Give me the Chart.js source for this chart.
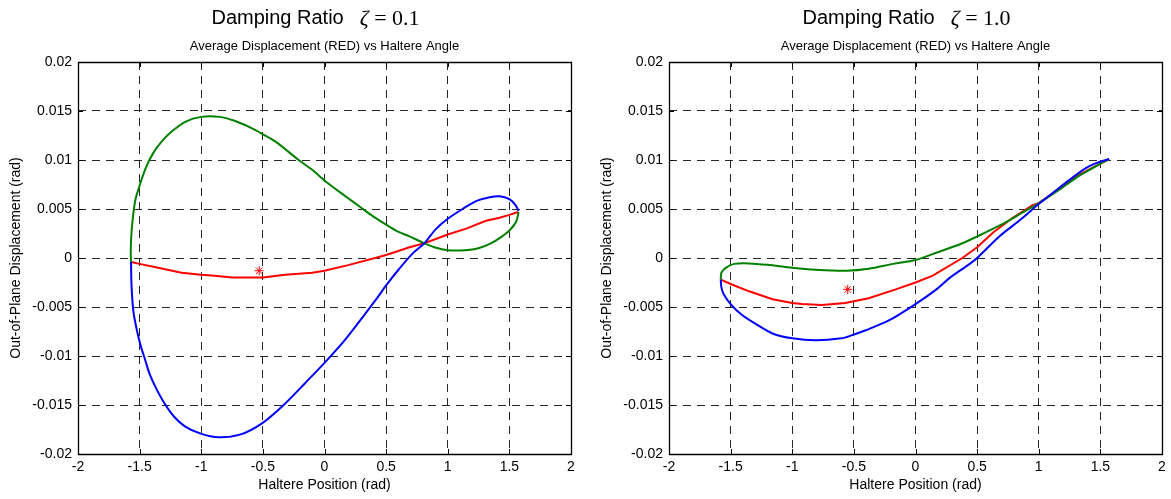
<!DOCTYPE html>
<html>
<head>
<meta charset="utf-8">
<script src="https://cdn.jsdelivr.net/npm/chart.js@4.4.0/dist/chart.umd.min.js"></script>
<style>
  html, body { margin: 0; padding: 0; background: #fff; }
  #wrap { position: relative; width: 1171px; height: 499px; }
  .box { position: absolute; top: 0; height: 499px; }
  #left-box { left: 0; width: 586px; }
  #right-box { left: 586px; width: 585px; }
</style>
</head>
<body>
<div id="wrap">
  <div class="box" id="left-box"><canvas id="chart-left" width="586" height="499"></canvas></div>
  <div class="box" id="right-box"><canvas id="chart-right" width="585" height="499"></canvas></div>
</div>
<script>
// axis ticks (same on both panels)
const xTicks = [-2, -1.5, -1, -0.5, 0, 0.5, 1, 1.5, 2]
const xTickLabels = ['-2', '-1.5', '-1', '-0.5', '0', '0.5', '1', '1.5', '2']
const yTicks = [-0.02, -0.015, -0.01, -0.005, 0, 0.005, 0.01, 0.015, 0.02]
const yTickLabels = ['-0.02', '-0.015', '-0.01', '-0.005', '0', '0.005', '0.01', '0.015', '0.02']

// zeta = 0.1
const blue01X = [-1.57, -1.565, -1.55, -1.52, -1.49, -1.46, -1.42, -1.37, -1.30, -1.22, -1.13, -1.01, -0.86, -0.68, -0.51, -0.34, -0.16, 0.0, 0.17, 0.33, 0.42, 0.5, 0.60, 0.71, 0.81, 0.90, 1.0, 1.12, 1.23, 1.34, 1.42, 1.50, 1.55, 1.575]
const blue01Y = [-0.0004, -0.003, -0.0055, -0.0075, -0.009, -0.0102, -0.0118, -0.0132, -0.0148, -0.0162, -0.0172, -0.0179, -0.0183, -0.0180, -0.0169, -0.0151, -0.0128, -0.0107, -0.0083, -0.0057, -0.0042, -0.0028, -0.0012, 0.0004, 0.0015, 0.0029, 0.0040, 0.0050, 0.0058, 0.0062, 0.0063, 0.0060, 0.0054, 0.0048]
const green01X = [1.575, 1.555, 1.50, 1.43, 1.35, 1.25, 1.14, 1.0, 0.89, 0.81, 0.69, 0.58, 0.50, 0.40, 0.29, 0.17, 0.02, -0.10, -0.21, -0.40, -0.51, -0.60, -0.73, -0.85, -1.0, -1.13, -1.24, -1.32, -1.39, -1.45, -1.50, -1.535, -1.555, -1.568, -1.572, -1.57]
const green01Y = [0.0047, 0.0037, 0.0028, 0.0021, 0.0015, 0.0010, 0.0008, 0.0008, 0.0011, 0.0015, 0.0022, 0.0028, 0.0034, 0.0042, 0.0052, 0.0063, 0.0077, 0.0090, 0.0100, 0.0119, 0.0127, 0.0133, 0.0140, 0.0144, 0.0144, 0.0139, 0.0129, 0.0119, 0.0107, 0.0092, 0.0074, 0.0059, 0.0041, 0.0022, 0.0005, -0.0004]
const red01X = [-1.57, -1.5, -1.35, -1.16, -1.0, -0.89, -0.75, -0.5, -0.32, -0.10, 0.0, 0.20, 0.44, 0.5, 0.69, 0.81, 1.0, 1.15, 1.31, 1.42, 1.5, 1.57]
const red01Y = [-0.0004, -0.0006, -0.0010, -0.0015, -0.0017, -0.0018, -0.0020, -0.0020, -0.0017, -0.0015, -0.0013, -0.0007, 0.0001, 0.0003, 0.0011, 0.0015, 0.0024, 0.0030, 0.0038, 0.0041, 0.0044, 0.0047]
const star01X = [-0.53]
const star01Y = [-0.0013]

// zeta = 1.0
const blue10X = [-1.58, -1.575, -1.556, -1.50, -1.41, -1.30, -1.16, -1.0, -0.81, -0.60, -0.52, -0.41, -0.22, 0.0, 0.17, 0.28, 0.44, 0.50, 0.68, 0.85, 1.0, 1.17, 1.36, 1.47, 1.57]
const blue10Y = [-0.0022, -0.0030, -0.0037, -0.0047, -0.0058, -0.0067, -0.0077, -0.0082, -0.0084, -0.0082, -0.0079, -0.0074, -0.0064, -0.0047, -0.0032, -0.0020, -0.0006, 0.0000, 0.0022, 0.0039, 0.0055, 0.0072, 0.0090, 0.0097, 0.0101]
const green10X = [-1.58, -1.575, -1.54, -1.47, -1.35, -1.20, -1.0, -0.81, -0.56, -0.38, -0.18, 0.0, 0.14, 0.38, 0.50, 0.68, 0.85, 1.0, 1.17, 1.33, 1.47, 1.57]
const green10Y = [-0.0022, -0.0015, -0.0010, -0.0006, -0.00055, -0.0007, -0.0010, -0.0012, -0.0013, -0.0011, -0.0006, -0.0002, 0.0004, 0.0015, 0.0022, 0.0033, 0.0045, 0.0056, 0.0070, 0.0084, 0.0094, 0.0101]
const red10X = [-1.58, -1.49, -1.35, -1.16, -1.0, -0.92, -0.76, -0.57, -0.38, -0.16, 0.0, 0.14, 0.38, 0.50, 0.63, 0.79, 0.95, 1.0, 1.17, 1.33, 1.57]
const red10Y = [-0.0022, -0.0027, -0.0034, -0.0042, -0.0046, -0.0047, -0.0048, -0.0046, -0.0041, -0.0032, -0.0025, -0.0018, 0.0000, 0.0011, 0.0026, 0.0041, 0.0054, 0.0056, 0.0071, 0.0085, 0.0101]
const star10X = [-0.55]
const star10Y = [-0.0032]

function toPoints(xs, ys){
    return xs.map((x, i) => ({x: x, y: ys[i]}))
}

function lineSet(xs, ys, color, tension){
    return {
        data: toPoints(xs, ys),
        showLine: true,
        borderColor: color,
        borderWidth: 2,
        pointRadius: 0,
        tension: tension,
        fill: false
    }
}

function starSet(xs, ys){
    return {
        data: toPoints(xs, ys),
        showLine: false,
        pointStyle: 'star',
        pointRadius: 4.5,
        borderColor: '#ff0000',
        backgroundColor: '#ff0000',
        borderWidth: 1
    }
}

// matlab-ish title: "Damping Ratio   ζ = 0.1" + small subtitle
const titlePlugin = {
    id: 'matlabTitle',
    afterDraw(chart, args, opts){
        const ctx = chart.ctx
        const a = chart.chartArea
        const cx = (a.left + a.right) / 2
        ctx.save()
        ctx.fillStyle = '#000'
        ctx.textBaseline = 'middle'
        ctx.textAlign = 'left'

        ctx.font = '20px "Liberation Sans"'
        const w1 = ctx.measureText('Damping Ratio').width
        ctx.font = 'italic 22px "Liberation Serif"'
        const w2 = ctx.measureText('\u03B6').width
        ctx.font = '22px "Liberation Serif"'
        const rest = ' = ' + opts.zeta
        const w3 = ctx.measureText(rest).width
        const gap = 16
        let x = cx - (w1 + gap + w2 + w3) / 2 - 9

        ctx.font = '20px "Liberation Sans"'
        ctx.fillText('Damping Ratio', x, 18)
        x += w1 + gap
        ctx.font = 'italic 22px "Liberation Serif"'
        ctx.fillText('\u03B6', x, 19)
        x += w2
        ctx.font = '22px "Liberation Serif"'
        ctx.fillText(rest, x, 19)

        ctx.textAlign = 'center'
        ctx.font = '13px "Liberation Sans"'
        ctx.fillText('Average Displacement (RED) vs Haltere Angle', cx, 46)
        ctx.restore()
    }
}

// box round the axes and inward tick marks on all four sides
const boxPlugin = {
    id: 'axesBox',
    afterDraw(chart){
        const ctx = chart.ctx
        const a = chart.chartArea
        const sx = chart.scales.x
        const sy = chart.scales.y
        ctx.save()
        ctx.strokeStyle = '#000'
        ctx.lineWidth = 1.3
        ctx.beginPath()
        ctx.rect(Math.round(a.left) + 0.5, Math.round(a.top) + 0.5, Math.round(a.right - a.left), Math.round(a.bottom - a.top))
        ctx.stroke()
        ctx.lineWidth = 1
        ctx.beginPath()
        xTicks.forEach(v => {
            const p = Math.round(sx.getPixelForValue(v)) + 0.5
            ctx.moveTo(p, a.top); ctx.lineTo(p, a.top + 5)
            ctx.moveTo(p, a.bottom); ctx.lineTo(p, a.bottom - 5)
        })
        yTicks.forEach(v => {
            const p = Math.round(sy.getPixelForValue(v)) + 0.5
            ctx.moveTo(a.left, p); ctx.lineTo(a.left + 5, p)
            ctx.moveTo(a.right, p); ctx.lineTo(a.right - 5, p)
        })
        ctx.stroke()
        ctx.restore()
    }
}

function makeChart(canvas, zeta, sets, yWidth, padRight, yTitlePad){
    return new Chart(canvas, {
        type: 'scatter',
        data: { datasets: sets },
        options: {
            responsive: false,
            animation: false,
            layout: { padding: { top: 62, right: padRight, bottom: 0, left: 0 } },
            plugins: {
                legend: { display: false },
                tooltip: { enabled: false },
                matlabTitle: { zeta: zeta }
            },
            scales: {
                x: {
                    type: 'linear',
                    min: -2,
                    max: 2,
                    afterBuildTicks: scale => { scale.ticks = xTicks.map(v => ({value: v})) },
                    afterFit: scale => { scale.height = 45 },
                    ticks: {
                        autoSkip: false,
                        maxRotation: 0,
                        padding: 5,
                        color: '#000',
                        font: { family: '"Liberation Sans"', size: 14 },
                        callback: (v, i) => xTickLabels[i]
                    },
                    grid: { color: 'rgba(0,0,0,0.85)', lineWidth: 1, drawTicks: false },
                    border: { display: false, dash: [8, 6] },
                    title: {
                        display: true,
                        text: 'Haltere Position (rad)',
                        color: '#000',
                        font: { family: '"Liberation Sans"', size: 14 },
                        padding: { top: 0, bottom: 5 }
                    }
                },
                y: {
                    type: 'linear',
                    min: -0.02,
                    max: 0.02,
                    afterBuildTicks: scale => { scale.ticks = yTicks.map(v => ({value: v})) },
                    afterFit: scale => { scale.width = yWidth },
                    ticks: {
                        autoSkip: false,
                        padding: 6,
                        color: '#000',
                        font: { family: '"Liberation Sans"', size: 14 },
                        callback: (v, i) => yTickLabels[i]
                    },
                    grid: { color: 'rgba(0,0,0,0.85)', lineWidth: 1, drawTicks: false },
                    border: { display: false, dash: [8, 6] },
                    title: {
                        display: true,
                        text: 'Out-of-Plane Displacement (rad)',
                        color: '#000',
                        font: { family: '"Liberation Sans"', size: 14 },
                        padding: { top: yTitlePad, bottom: 0 }
                    }
                }
            }
        },
        plugins: [titlePlugin, boxPlugin]
    })
}

const leftSets = [
    lineSet(blue01X, blue01Y, '#0000ff', 0.3),
    lineSet(green01X, green01Y, '#008000', 0.3),
    lineSet(red01X, red01Y, '#ff0000', 0),
    starSet(star01X, star01Y)
]
const rightSets = [
    lineSet(blue10X, blue10Y, '#0000ff', 0.3),
    lineSet(green10X, green10Y, '#008000', 0.3),
    lineSet(red10X, red10Y, '#ff0000', 0),
    starSet(star10X, star10Y)
]

const leftChart = makeChart(document.getElementById('chart-left'), '0.1', leftSets, 78, 15, 8)
const rightChart = makeChart(document.getElementById('chart-right'), '1.0', rightSets, 83, 9, 13)
</script>
</body>
</html>
